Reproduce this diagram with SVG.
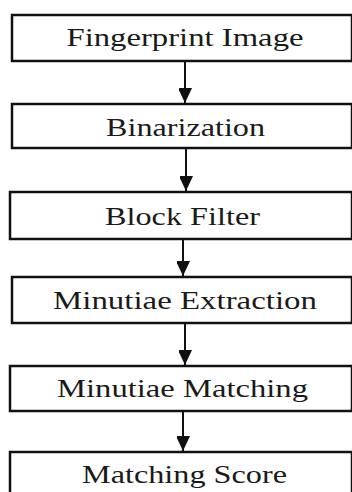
<svg xmlns="http://www.w3.org/2000/svg" width="352" height="492" viewBox="0 0 352 492">
<style>
.box{fill:#fff;stroke:#111;stroke-width:2.5}
.lbl{font-family:"Liberation Serif","DejaVu Serif",serif;font-size:25px;fill:#1a1a1a;text-anchor:middle}
.con{stroke:#111;stroke-width:2;fill:none}
</style>
<defs>
<marker id="ah" markerUnits="userSpaceOnUse" markerWidth="16" markerHeight="13" refX="15" refY="7" orient="auto">
<path d="M0,0 L15,7 L0,14 Z" fill="#111"/>
</marker>
</defs>
<rect width="352" height="492" fill="#fff"/>
<g id="connectors">
<line class="con" x1="185" y1="61" x2="185" y2="103" marker-end="url(#ah)"/>
<line class="con" x1="186" y1="148" x2="186" y2="191" marker-end="url(#ah)"/>
<line class="con" x1="183" y1="239" x2="183" y2="276" marker-end="url(#ah)"/>
<line class="con" x1="185" y1="323" x2="185" y2="365" marker-end="url(#ah)"/>
<line class="con" x1="183" y1="411" x2="183" y2="451" marker-end="url(#ah)"/>
</g>
<g id="n1"><rect class="box" x="12" y="15" width="340" height="46"/><text class="lbl" x="185" y="46" textLength="237" lengthAdjust="spacingAndGlyphs">Fingerprint Image</text></g>
<g id="n2"><rect class="box" x="12" y="104" width="340" height="44"/><text class="lbl" x="185.5" y="135.5" textLength="159" lengthAdjust="spacingAndGlyphs">Binarization</text></g>
<g id="n3"><rect class="box" x="10" y="192" width="342" height="47"/><text class="lbl" x="182.5" y="225" textLength="155" lengthAdjust="spacingAndGlyphs">Block Filter</text></g>
<g id="n4"><rect class="box" x="12" y="277" width="340" height="46"/><text class="lbl" x="185" y="309" textLength="264" lengthAdjust="spacingAndGlyphs">Minutiae Extraction</text></g>
<g id="n5"><rect class="box" x="10" y="366" width="342" height="45"/><text class="lbl" x="182.5" y="397" textLength="251" lengthAdjust="spacingAndGlyphs">Minutiae Matching</text></g>
<g id="n6"><rect class="box" x="10" y="452" width="342" height="60"/><text class="lbl" x="184.5" y="483" textLength="205" lengthAdjust="spacingAndGlyphs">Matching Score</text></g>
</svg>
